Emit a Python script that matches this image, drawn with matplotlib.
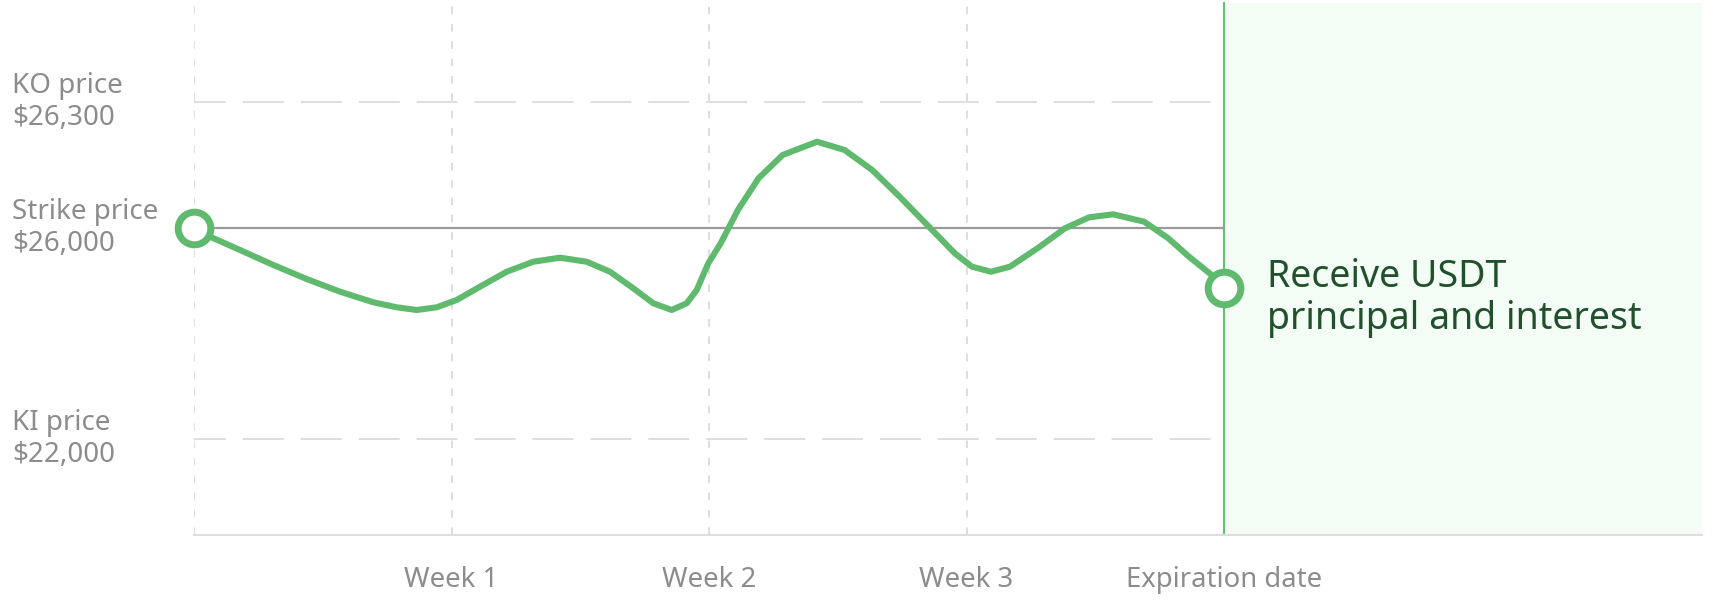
import matplotlib
matplotlib.use("Agg")
import matplotlib.pyplot as plt
from matplotlib.transforms import blended_transform_factory

plt.rcParams['font.family'] = ['Noto Sans', 'DejaVu Sans']
plt.rcParams['lines.scale_dashes'] = False

# price levels (schematic chart height, 0 = axis bottom, 100 = top)
price_labels = ["KO price\n$26,300", "Strike price\n$26,000", "KI price\n$22,000"]
price_levels = [80.9, 57.4, 17.9]

# x axis: days into the product
week_days = [7, 14, 21, 28]
week_labels = ["Week 1", "Week 2", "Week 3", "Expiration date"]

# price path
path_days = [0, 0.435, 1.25, 2.155, 3.063, 3.968, 4.874, 5.51, 6.053, 6.597, 7.141,
             7.774, 8.5, 9.223, 9.948, 10.674, 11.307, 11.941, 12.484, 12.985,
             13.392, 13.664, 13.979, 14.316, 14.784, 15.344, 15.999, 16.937,
             17.684, 18.435, 19.182, 19.932, 20.68, 21.147, 21.664, 22.177,
             22.927, 23.675, 24.33, 24.985, 25.828, 26.483, 27.046, 27.606, 28.0]
path_levels = [57.44, 55.76, 53.27, 50.47, 47.85, 45.48, 43.5, 42.56, 42.06, 42.56,
               43.93, 46.41, 49.21, 51.08, 51.83, 51.08, 49.21, 46.11, 43.31, 42.06,
               43.31, 45.79, 50.79, 54.52, 60.75, 66.67, 71.03, 73.51,
               71.96, 68.22, 63.23, 57.94, 52.65, 50.15, 49.21, 50.15,
               53.59, 57.33, 59.38, 59.94, 58.56, 55.46, 52.02, 48.92, 46.11]

end_text = "Receive USDT\nprincipal and interest"

green = '#5FBA6D'
grey_txt = '#8C8C8C'
grid_c = '#DEDEDE'

fig = plt.figure(figsize=(17.16, 6.06), dpi=100)
ax = fig.add_axes([194 / 1716, 71 / 606, 1508 / 1716, 535 / 606])
ax.set_xlim(0, 40.99)
ax.set_ylim(0, 100)

for s in ['top', 'right', 'left']:
    ax.spines[s].set_visible(False)
ax.spines['bottom'].set_color(grid_c)
ax.spines['bottom'].set_linewidth(1.5)

# expiration zone
exp_day = week_days[-1]
ax.axvspan(exp_day, 41, ymin=0, ymax=0.994, color='#F3FDF5', lw=0, zorder=0)
ax.plot([exp_day, exp_day], [0, 99.4], color='#66BF73', lw=1.5, zorder=2)

# vertical dashed grid
for d in [0] + week_days[:-1]:
    ax.axvline(d, color=grid_c, lw=1.44, ls=(0, (5.5, 7.0)), zorder=1)

# KO / KI dashed levels, strike solid
for lvl in (price_levels[0], price_levels[2]):
    ax.plot([0, 27.75], [lvl, lvl], color=grid_c, lw=1.44, ls=(6.5, (29.5, 12.2)), zorder=1)
ax.plot([0, exp_day], [price_levels[1]] * 2, color='#9A9A9A', lw=1.6, zorder=2)

# price path
ax.plot(path_days, path_levels, color=green, lw=4.4, solid_capstyle='round',
        solid_joinstyle='round', zorder=3)
ax.plot([path_days[0], path_days[-1]], [path_levels[0], path_levels[-1]], 'o',
        ms=23.5, mfc='white', mec=green, mew=5, zorder=4, clip_on=False)

# left labels
trans = blended_transform_factory(fig.transFigure, ax.transData)
for lab, lvl in zip(price_labels, price_levels):
    ax.text(12 / 1716, lvl, lab, transform=trans, ha='left', va='center',
            fontsize=20, color=grey_txt, linespacing=1.2)

ax.set_yticks([])
ax.set_xticks(week_days, week_labels, fontsize=19.8, color=grey_txt)
ax.tick_params(axis='x', length=0, pad=22.5)

ax.annotate(end_text, xy=(path_days[-1], path_levels[-1]), xytext=(30.7, -29.5),
            textcoords='offset points', va='baseline', ha='left', fontsize=27,
            color='#22502D', linespacing=1.14)

fig.savefig('out.png', dpi=100)
